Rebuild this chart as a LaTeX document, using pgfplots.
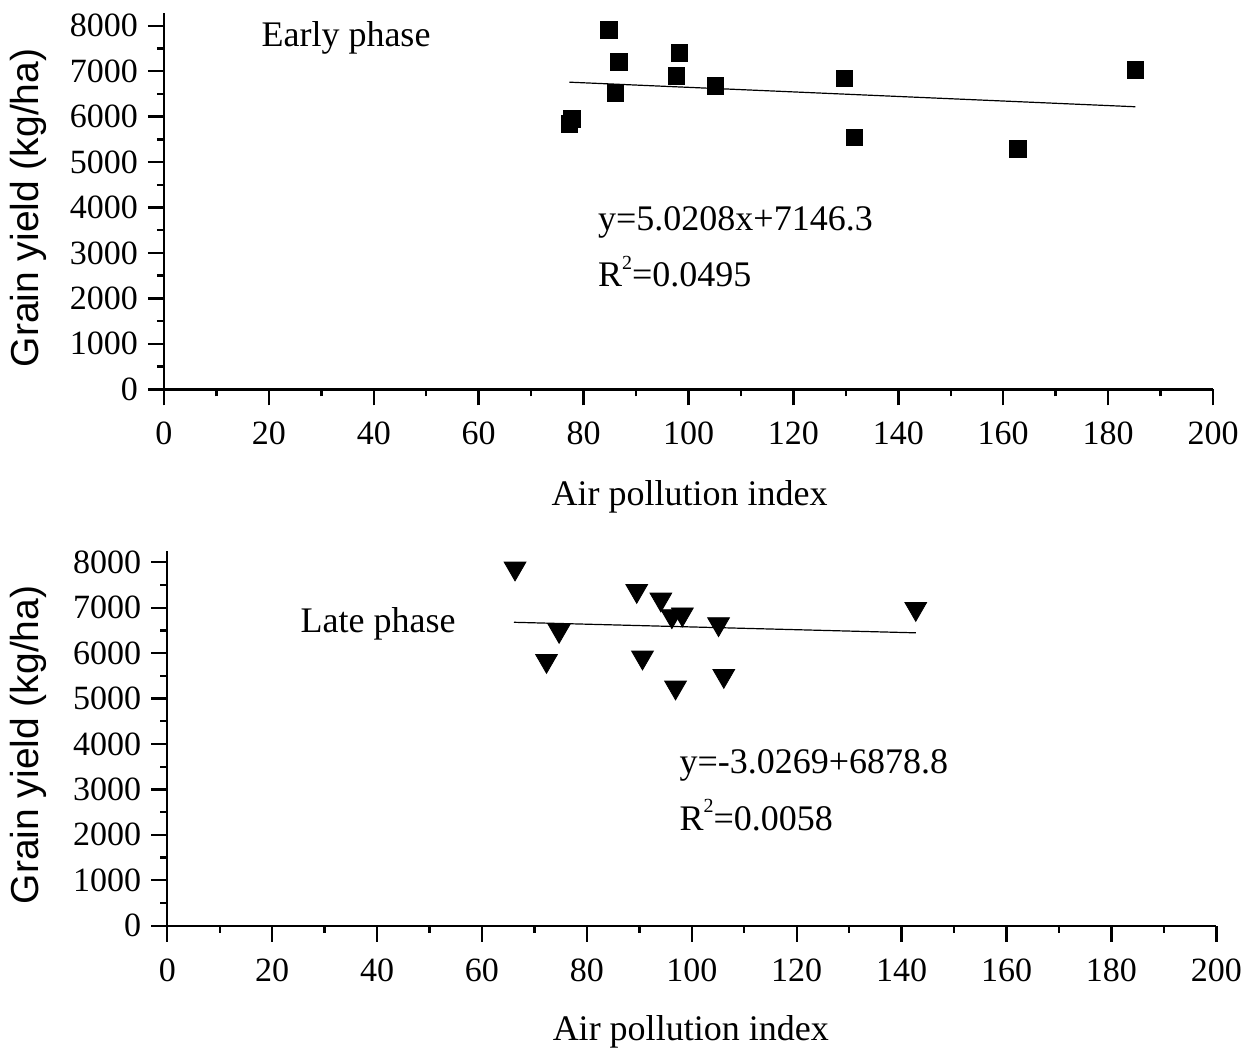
\documentclass[border=0pt]{standalone}
\usepackage{fontspec}
\setmainfont{Liberation Serif}
\newfontfamily\labelsans{Liberation Sans}
\usepackage{pgfplots}
\pgfplotsset{compat=1.18}

\pgfplotsset{
  yieldaxis/.style={
    scale only axis,
    width=524.5pt,
    xmin=0, xmax=200,
    ymin=0,
    axis x line*=bottom, axis y line*=left,
    axis line style={line width=1.2pt},
    tick align=outside,
    major tick length=8pt, minor tick length=3.5pt,
    every tick/.style={black, line width=1.2pt},
    xtick={0,20,...,200}, ytick={0,1000,...,8000},
    minor x tick num=1, minor y tick num=1,
    /pgf/number format/assume math mode=true,
    /pgf/number format/1000 sep={},
    ticklabel style={font=\fontsize{17}{20}\selectfont},
    xticklabel style={yshift=-5pt},
    yticklabel style={xshift=-1.5pt},
    xlabel={Air pollution index},
    ylabel={Grain yield (kg/ha)},
    xlabel style={font=\fontsize{18}{21}\selectfont, anchor=center},
    ylabel style={font=\labelsans\fontsize{19.5}{22}\selectfont, anchor=center},
    clip=false,
  },
}
\tikzset{txt/.style={font=\fontsize{18}{21}\selectfont, inner sep=0pt}}
% small raised "2" as in the original
\newcommand{\sqr}{\raisebox{1.05ex}{\fontsize{10}{10}\selectfont 2}}

\begin{document}
\begin{tikzpicture}
\useasboundingbox (-82pt,-330.85pt) rectangle (547.5pt,194.65pt);

% Early phase
\begin{axis}[yieldaxis,
    at={(0pt,0pt)}, anchor=south west,
    height=188.15pt, ymax=8280,
    xlabel style={at={(axis description cs:0.501,0)}, yshift=-54pt},
    ylabel style={at={(axis description cs:0,0.482)}, yshift=68pt},
  ]
  \addplot[only marks, mark=square*, mark size=4.15pt, black] coordinates {
    (84.8,7905) (86.7,7208) (98.3,7406) (97.7,6893) (105.1,6673)
    (86.1,6519) (77.8,5947) (77.3,5837) (129.7,6843) (131.6,5545)
    (162.8,5287) (185.2,7025)
  };
  \addplot[black, line width=0.6pt] coordinates {(77.3,6758) (185.2,6217)};
  \node[txt] at (axis cs:34.7,7729) {Early phase};
  \node[txt, anchor=west] at (axis cs:82.7,3681) {y=5.0208x+7146.3};
  \node[txt, anchor=west] at (axis cs:82.7,2583) {R\sqr=0.0495};
\end{axis}

% Late phase
\begin{axis}[yieldaxis,
    at={(1.65pt,-268.2pt)}, anchor=south west,
    height=187.5pt, ymax=8255,
    xlabel style={at={(axis description cs:0.499,0)}, yshift=-53pt},
    ylabel style={at={(axis description cs:0,0.482)}, yshift=69.6pt},
  ]
  \addplot[only marks, mark=triangle*, mark size=6.3pt, mark options={rotate=180}, black] coordinates {
    (66.3,7867) (89.5,7374) (94.1,7185) (96.2,6817) (98.2,6855)
    (105.1,6641) (74.7,6494) (72.3,5833) (90.6,5908) (96.9,5248)
    (106.1,5503) (142.7,6978)
  };
  \addplot[black, line width=0.6pt] coordinates {(66.1,6679) (142.7,6447)};
  \node[txt] at (axis cs:40.2,6641) {Late phase};
  \node[txt, anchor=west] at (axis cs:97.6,3537) {y=-3.0269+6878.8};
  \node[txt, anchor=west] at (axis cs:97.6,2437) {R\sqr=0.0058};
\end{axis}
\end{tikzpicture}
\end{document}
